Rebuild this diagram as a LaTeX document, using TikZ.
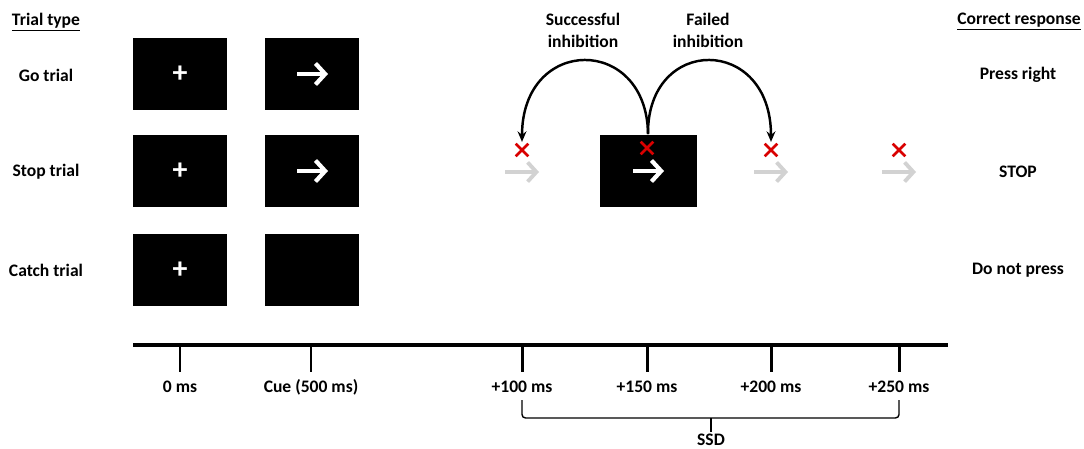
\documentclass[tikz,border=0pt]{standalone}
\usepackage{fontspec}
\setmainfont{Carlito}
\usetikzlibrary{arrows.meta, positioning, shapes.misc}

\begin{document}
\begin{tikzpicture}[x=0.02cm, y=-0.02cm,
    screen/.style = {fill=black, minimum width=1.9cm, minimum height=1.44cm, inner sep=0pt},
    fix/.style = {label={[text=white, font=\bfseries\fontsize{17}{17}\selectfont]center:+}},
    lbl/.style = {font=\bfseries\fontsize{10}{12.5}\selectfont, align=center},
    miss/.style = {cross out, draw=red!85!black, line width=1.5pt, minimum size=0.2cm, inner sep=0pt},
    ghost/.style = {draw=gray!35, line width=2.2pt, -{Straight Barb[length=5pt, width=11pt]}},
    cue/.style = {draw=white, line width=2.4pt, -{Straight Barb[length=5.5pt, width=12pt]}},
    jump/.style = {line width=1.4pt, -{Stealth[length=6pt, width=5pt]}, shorten >=1pt},
    ]
    \useasboundingbox (0,0) rectangle (1084,449);

    % left column
    \node[lbl] (hdtype) at (46,22) {\underline{Trial type}};
    \node[lbl] (gotxt) at (46,75) {Go trial};
    \node[lbl] (stoptxt) at (46,172) {Stop trial};
    \node[lbl] (catchtxt) at (46,270) {Catch trial};

    % screens
    \node[screen, fix] (gofix) at (180,74) {};
    \node[screen] (gocue) at (312,74) {};
    \node[screen, fix] (stopfix) at (180,171) {};
    \node[screen] (stopcue) at (312,171) {};
    \node[screen, fix] (catchfix) at (180,270) {};
    \node[screen] (catchcue) at (312,270) {};
    \node[screen, minimum width=1.94cm, minimum height=1.46cm] (stopsig) at (648,171) {};

    \foreach \b in {gocue, stopcue, stopsig}
        \draw[cue] ([xshift=-0.3cm]\b.center) -- ([xshift=0.32cm]\b.center);

    % skipped go arrows
    \foreach \x/\n in {522/a, 771/b, 899/c} {
        \coordinate (ghost\n) at (\x,172);
        \draw[ghost] ([xshift=-0.34cm]ghost\n) -- ([xshift=0.34cm]ghost\n);
        \node[miss] (miss\n) at (\x,150) {};
    }
    \node[miss] (misssig) at (647,148) {};

    \draw[jump] (stopsig.north) .. controls (647,35) and (522,35) .. (missa.north);
    \draw[jump] (stopsig.north) .. controls (647,35) and (771,35) .. (missb.north);
    \node[lbl] (succtxt) at (583,30) {Successful\\inhibition};
    \node[lbl] (failtxt) at (708,30) {Failed\\inhibition};

    % right column
    \node[lbl] (hdresp) at (1019,22) {\underline{Correct response}};
    \node[lbl] (gorsp) at (1018,75) {Press right};
    \node[lbl] (stoprsp) at (1018,172) {STOP};
    \node[lbl] (catchrsp) at (1018,270) {Do not press};

    % time line
    \draw[line width=2.3pt] (133,345) coordinate (tlstart) -- (948,345) coordinate (tlend);
    \foreach \x/\t/\n in {180/0 ms/a, 311/Cue (500 ms)/b, 522/+100 ms/c, 647/+150 ms/d, 771/+200 ms/e, 899/+250 ms/f} {
        \coordinate (tick\n) at (\x,345);
        \draw[line width=1.7pt] (tick\n) -- ++(0,27);
        \node[lbl] (time\n) at (\x,387) {\t};
    }

    % SSD bracket
    \coordinate (ssdl) at (522,400);
    \coordinate (ssdr) at (899,400);
    \coordinate (ssdmid) at (711,418);
    \draw[thick, rounded corners=2pt] (ssdl) |- (ssdmid) -| (ssdr);
    \draw[thick] (ssdmid) -- ++(0,14) node[lbl, below, inner sep=1pt] (ssdtxt) {SSD};
\end{tikzpicture}
\end{document}
